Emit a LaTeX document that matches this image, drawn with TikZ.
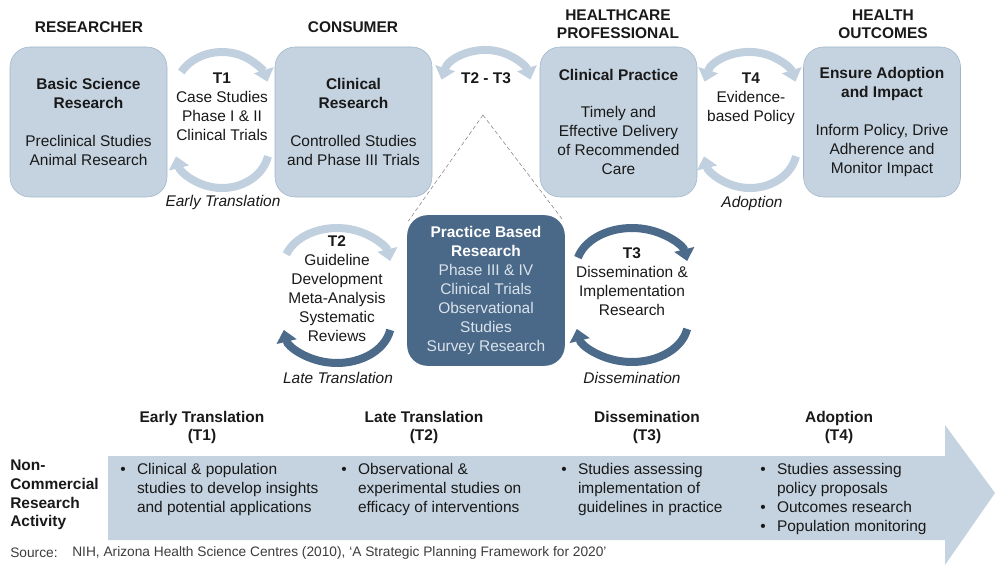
\documentclass[tikz,border=0pt]{standalone}
\usepackage{fontspec}
\setmainfont{Liberation Sans}
\usetikzlibrary{arrows.meta}

\definecolor{boxfill}{RGB}{197,211,224}
\definecolor{boxline}{RGB}{160,181,201}
\definecolor{arclight}{RGB}{193,208,222}
\definecolor{arcdark}{RGB}{76,106,137}
\definecolor{pbrfill}{RGB}{74,104,135}
\definecolor{pbrtext}{RGB}{218,227,236}
\definecolor{textdark}{RGB}{25,25,25}
\definecolor{srcgray}{RGB}{60,60,60}

\begin{document}
\begin{tikzpicture}
  [x = 0.75pt, y = 0.75pt,
   every node/.style = {font = \fontsize{11.6}{14.2}\selectfont, text = textdark, align = center, inner sep = 0pt},
   stagebox/.style = {draw = boxline, fill = boxfill, rounded corners = 15pt,
                      minimum width = 117.75pt, minimum height = 112.5pt},
   pbrbox/.style = {stagebox, draw = pbrfill, fill = pbrfill, text = pbrtext},
   heading/.style = {font = \fontsize{11.6}{13.5}\selectfont\bfseries},
   phase/.style = {font = \fontsize{11.6}{14.2}\selectfont\itshape},
   lightarc/.style = {draw = arclight, line width = 6pt},
   darkarc/.style = {draw = arcdark, line width = 6pt},
   arcend/.style = {-{Triangle[width = 15pt, length = 9pt]}},
   arcboth/.style = {{Triangle[width = 15pt, length = 9pt]}-{Triangle[width = 15pt, length = 9pt]}},
   zoomline/.style = {draw = gray, line width = 0.4pt, densely dashed},
   bullets/.style = {align = left, anchor = north west},
   srcnote/.style = {font = \fontsize{10.3}{12}\selectfont, text = srcgray, anchor = west}]
  \useasboundingbox (0,0) rectangle (995,565);

  % stages
  \node[heading] (researcher) at (89, 538) {RESEARCHER};
  \node[heading] (consumer) at (353, 538) {CONSUMER};
  \node[heading] (professional) at (618, 541) {HEALTHCARE\\PROFESSIONAL};
  \node[heading] (outcomes) at (883, 541) {HEALTH\\OUTCOMES};

  \node[stagebox] (basic) at (88.5, 443)
    {\textbf{Basic Science}\\\textbf{Research}\\[14pt]Preclinical Studies\\Animal Research};
  \node[stagebox] (clinres) at (353.5, 443)
    {\textbf{Clinical}\\\textbf{Research}\\[14pt]Controlled Studies\\and Phase III Trials};
  \node[stagebox] (clinpra) at (618.5, 443)
    {\textbf{Clinical Practice}\\[14pt]Timely and\\Effective Delivery\\of Recommended\\Care};
  \node[stagebox] (adopt) at (882, 443)
    {\textbf{Ensure Adoption}\\\textbf{and Impact}\\[14pt]Inform Policy, Drive\\Adherence and\\Monitor Impact};

  % T1
  \coordinate (t1up) at (222, 473);
  \coordinate (t1lo) at (222, 417);
  \draw[lightarc, arcend] ([shift={(150:47 and 40)}]t1up) arc[start angle = 150, end angle = 15, x radius = 47, y radius = 40];
  \draw[lightarc, arcend] ([shift={(-12:47 and 40)}]t1lo) arc[start angle = -12, end angle = -168, x radius = 47, y radius = 40];
  \node (t1txt) at (222, 458.5) {\textbf{T1}\\Case Studies\\Phase I \& II\\Clinical Trials};
  \node[phase] (early) at (223, 362) {Early Translation};

  % T2 - T3
  \coordinate (t23up) at (486, 475);
  \draw[lightarc, arcboth] ([shift={(165:46 and 40)}]t23up) arc[start angle = 165, end angle = 15, x radius = 46, y radius = 40];
  \node[heading] (t23txt) at (486, 487) {T2 - T3};

  % T4
  \coordinate (t4up) at (750, 473);
  \coordinate (t4lo) at (750, 417);
  \draw[lightarc, arcboth] ([shift={(165:47 and 40)}]t4up) arc[start angle = 165, end angle = 15, x radius = 47, y radius = 40];
  \draw[lightarc, arcend] ([shift={(-12:47 and 40)}]t4lo) arc[start angle = -12, end angle = -168, x radius = 47, y radius = 40];
  \node (t4txt) at (751, 466) {\textbf{T4}\\Evidence-\\based Policy};
  \node[phase] (adoption) at (752, 361) {Adoption};

  % practice based research
  \coordinate (apex) at (483, 450);
  \node[pbrbox] (pbr) at (486, 274.5)
    {\textcolor{white}{\textbf{Practice Based}}\\\textcolor{white}{\textbf{Research}}\\Phase III \& IV\\Clinical Trials\\Observational\\Studies\\Survey Research};
  \draw[zoomline] (apex) -- ([shift={(1,-6)}]pbr.north west);
  \draw[zoomline] (apex) -- ([shift={(-1,-6)}]pbr.north east);

  % T2
  \coordinate (t2up) at (337, 297);
  \coordinate (t2lo) at (337, 242);
  \draw[lightarc, arcend] ([shift={(160:54 and 40)}]t2up) arc[start angle = 160, end angle = 10, x radius = 54, y radius = 40];
  \draw[darkarc, arcend] ([shift={(-10:54 and 40)}]t2lo) arc[start angle = -10, end angle = -170, x radius = 54, y radius = 40];
  \node (t2txt) at (337, 276) {\textbf{T2}\\Guideline\\Development\\Meta-Analysis\\Systematic\\Reviews};
  \node[phase] (late) at (338, 187) {Late Translation};

  % T3
  \coordinate (t3up) at (632, 297);
  \coordinate (t3lo) at (632, 243);
  \draw[darkarc, arcend] ([shift={(165:56 and 40)}]t3up) arc[start angle = 165, end angle = 10, x radius = 56, y radius = 40];
  \draw[darkarc, arcend] ([shift={(-10:56 and 40)}]t3lo) arc[start angle = -10, end angle = -170, x radius = 56, y radius = 40];
  \node (t3txt) at (632, 283.5) {\textbf{T3}\\Dissemination \&\\Implementation\\Research};
  \node[phase] (dissem) at (632, 187) {Dissemination};

  % research activity
  \fill[boxfill] (108,109) -- (945,109) -- (945,140) -- (995,72) -- (945,0) -- (945,25) -- (108,25) -- cycle;
  \node[heading] (earlyhd) at (202, 137.5) {Early Translation\\(T1)};
  \node[heading] (latehd) at (424, 137.5) {Late Translation\\(T2)};
  \node[heading] (dissemhd) at (647, 137.5) {Dissemination\\(T3)};
  \node[heading] (adopthd) at (839, 137.5) {Adoption\\(T4)};
  \node[heading, align = left, anchor = west, font = \fontsize{11.6}{14}\selectfont\bfseries] (activity) at (10, 70) {Non-\\Commercial\\Research\\Activity};

  \node[bullets] (earlytx) at (120, 104)
    {\begin{tabular}{@{}l@{\hspace{8.5pt}}l@{}}
       • & Clinical \& population\\ & studies to develop insights\\ & and potential applications
     \end{tabular}};
  \node[bullets] (latetx) at (341, 104)
    {\begin{tabular}{@{}l@{\hspace{8.5pt}}l@{}}
       • & Observational \&\\ & experimental studies on\\ & efficacy of interventions
     \end{tabular}};
  \node[bullets] (dissemtx) at (561, 104)
    {\begin{tabular}{@{}l@{\hspace{8.5pt}}l@{}}
       • & Studies assessing\\ & implementation of\\ & guidelines in practice
     \end{tabular}};
  \node[bullets] (adopttx) at (760, 104)
    {\begin{tabular}{@{}l@{\hspace{8.5pt}}l@{}}
       • & Studies assessing\\ & policy proposals\\
       • & Outcomes research\\
       • & Population monitoring
     \end{tabular}};

  \node[srcnote] (srclabel) at (10, 12) {Source:};
  \node[srcnote] (srctext) at (72, 12) {NIH, Arizona Health Science Centres (2010), ‘A Strategic Planning Framework for 2020’};
\end{tikzpicture}
\end{document}
